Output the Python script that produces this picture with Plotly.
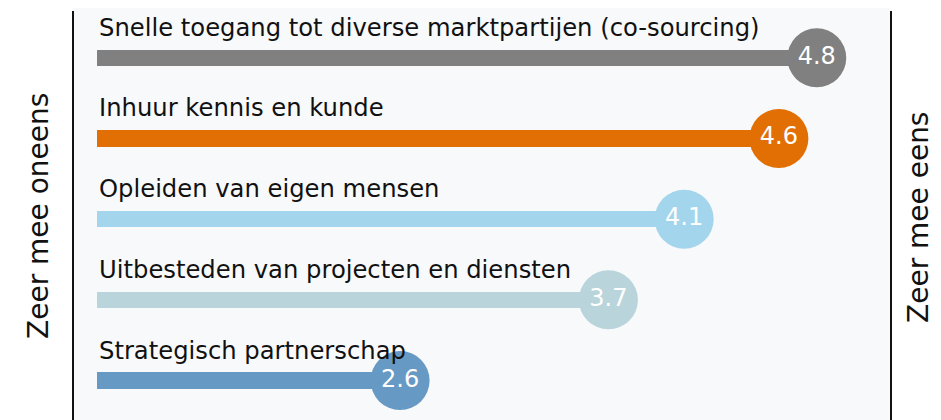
import plotly.graph_objects as go

categories = [
    "Snelle toegang tot diverse marktpartijen (co-sourcing)",
    "Inhuur kennis en kunde",
    "Opleiden van eigen mensen",
    "Uitbesteden van projecten en diensten",
    "Strategisch partnerschap",
]
scores = [4.8, 4.6, 4.1, 3.7, 2.6]
colors = ["#808080", "#e26f03", "#a3d5ec", "#b9d4da", "#6699c4"]
left_title = "Zeer mee oneens"
right_title = "Zeer mee eens"
scale_min = 1

positions = list(range(len(categories) - 1, -1, -1))

# page body has an 8px margin; size the figure so it fills the 941x420 window
OFF = 8
W, H = 941 - OFF, 420 - OFF
L, R, T, B = 73 - OFF, 50, 0, 0
pw, ph = W - L - R, H - T - B

FONT = "Verdana, DejaVu Sans, sans-serif"

fig = go.Figure()

fig.add_trace(go.Bar(
    orientation="h",
    y=positions,
    x=[s - scale_min for s in scores],
    base=scale_min,
    width=0.2,
    marker=dict(color=colors, line=dict(width=0)),
    hoverinfo="skip",
    showlegend=False,
))

fig.add_trace(go.Scatter(
    x=scores,
    y=positions,
    mode="markers+text",
    marker=dict(size=59, color=colors, line=dict(width=0)),
    text=[f"{s:.1f}" for s in scores],
    textposition="middle center",
    textfont=dict(family=FONT, size=24, color="white"),
    hoverinfo="skip",
    showlegend=False,
    cliponaxis=False,
))

for cat, pos in zip(categories, positions):
    fig.add_annotation(
        x=scale_min, y=pos, xref="x", yref="y",
        text=cat, showarrow=False,
        xanchor="left", yanchor="bottom", yshift=14,
        font=dict(family=FONT, size=24.25, color="#111111"),
    )


def px_to_paper(xa, ya):
    return ((xa - OFF) - L) / pw, 1 - ((ya - OFF) - T) / ph


lx, ly = px_to_paper(38, 216)
rx, ry = px_to_paper(918, 217)
fig.add_annotation(
    x=lx, y=ly, xref="paper", yref="paper", text=left_title, showarrow=False,
    xanchor="center", yanchor="middle", textangle=-90,
    font=dict(family=FONT, size=28, color="#111111"),
)
fig.add_annotation(
    x=rx, y=ry, xref="paper", yref="paper", text=right_title, showarrow=False,
    xanchor="center", yanchor="middle", textangle=-90,
    font=dict(family=FONT, size=28, color="#111111"),
)

line_top = (420 - 11) / ph

fig.update_layout(
    width=W, height=H,
    margin=dict(l=L, r=R, t=T, b=B, pad=0),
    plot_bgcolor="#f8f9fb",
    paper_bgcolor="white",
    bargap=0,
    xaxis=dict(range=[0.873, 5.192], visible=False, fixedrange=True),
    yaxis=dict(range=[-0.489, 4.617], visible=False, fixedrange=True),
    shapes=[
        dict(type="line", xref="paper", yref="paper", x0=0, x1=0, y0=0, y1=line_top,
             line=dict(color="#111111", width=2)),
        dict(type="line", xref="paper", yref="paper", x0=1, x1=1, y0=0, y1=line_top,
             line=dict(color="#111111", width=2)),
    ],
)

fig.write_html("out.html")
